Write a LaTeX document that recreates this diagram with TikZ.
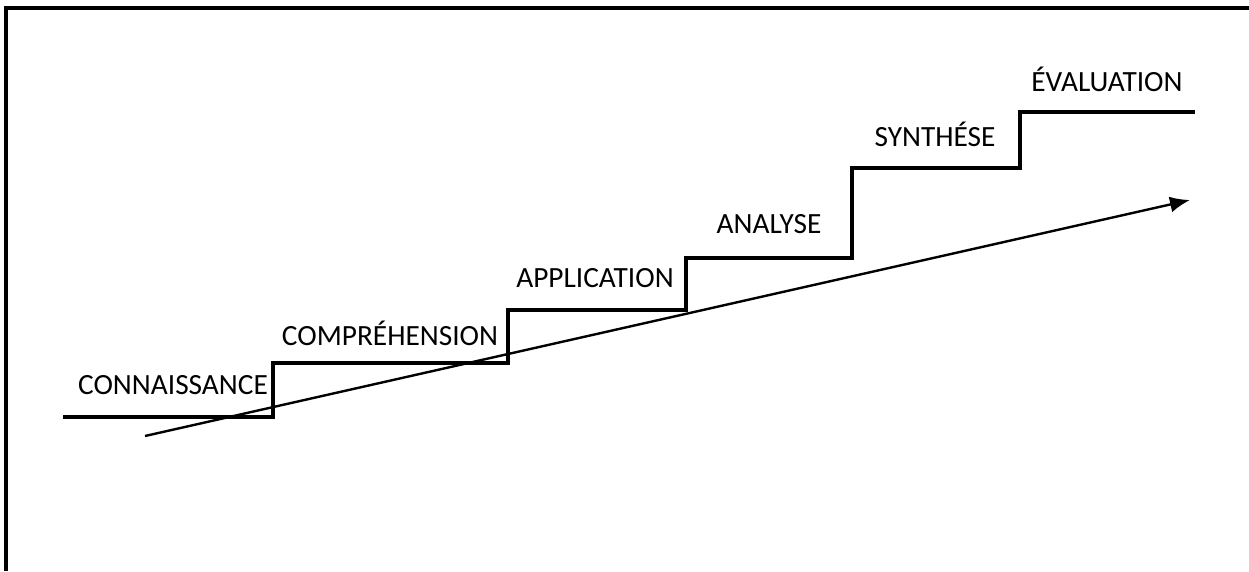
\documentclass[tikz,border=0pt]{standalone}
\usepackage{fontspec}
\setmainfont{Carlito}
\usetikzlibrary{arrows.meta}

\tikzset{
  level/.style={font=\fontsize{22}{26}\selectfont},
  stair/.style={line width=2.6pt},
}

\begin{document}
\begin{tikzpicture}[x=0.75pt,y=-0.75pt]
\useasboundingbox (0,0) rectangle (1249,571);
\draw [line width=2.6pt] (6,571) -- (6,8) -- (1249,8);

% the stairs
\draw [stair] (63,417) -- (273,417) -- (273,363) -- (508,363) -- (508,310)
  -- (686,310) -- (686,258) -- (852,258) -- (852,168) -- (1020,168)
  -- (1020,112) -- (1195,112);

\node [level] (conn) at (173,385) {CONNAISSANCE};
\node [level] (comp) at (390,333) {COMPRÉHENSION};
\node [level] (appl) at (595,278) {APPLICATION};
\node [level] (anal) at (769,224) {ANALYSE};
\node [level] (synt) at (935,134) {SYNTHÉSE};
\node [level] (eval) at (1107,79) {ÉVALUATION};

\coordinate (from) at (145,436);
\coordinate (to) at (1190,200);
\draw [-{Latex[length=15pt,width=12pt]},line width=1.8pt] (from) -- (to);
\end{tikzpicture}
\end{document}
